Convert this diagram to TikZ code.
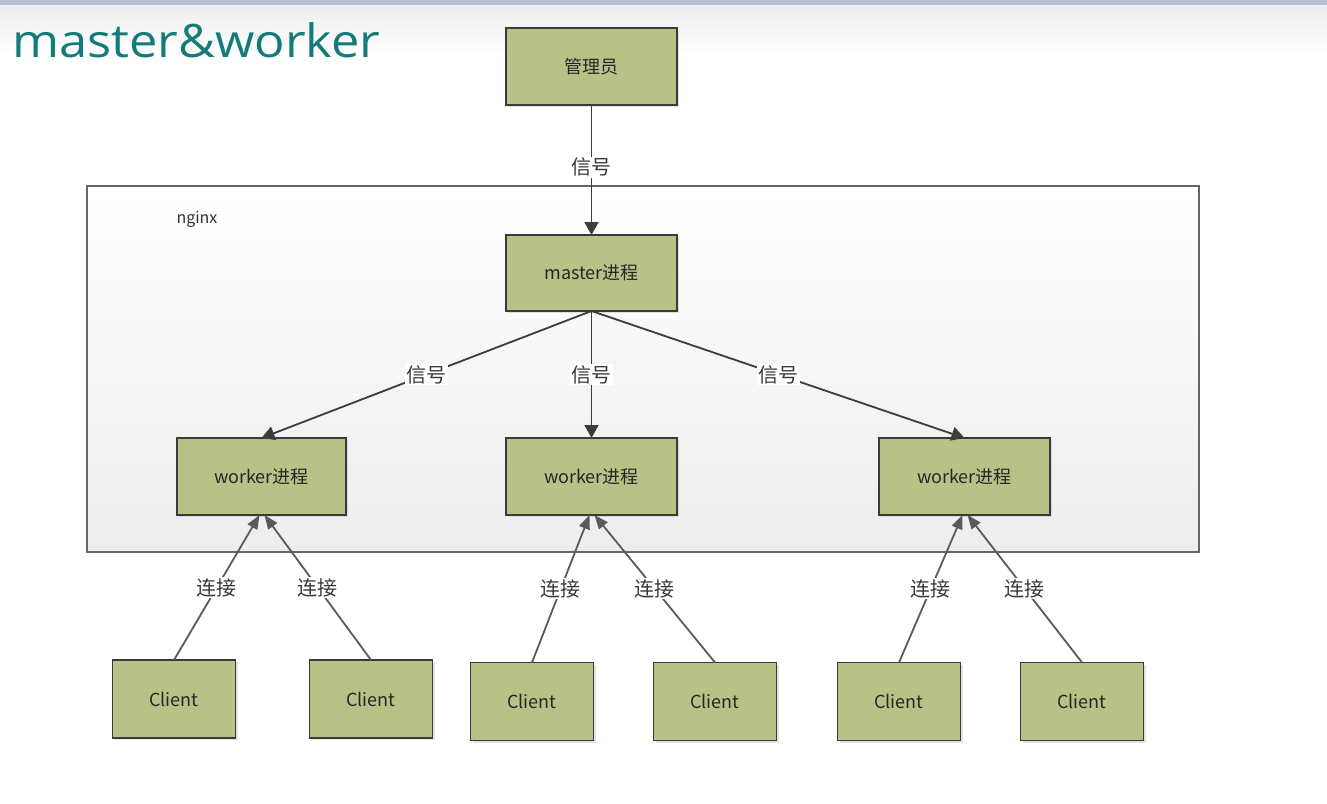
\documentclass[tikz,border=0pt]{standalone}
\usepackage{fontspec}
\setmainfont{Noto Sans CJK SC}
\newfontfamily\titlefont{Open Sans}
\usetikzlibrary{arrows.meta,shadows}
\definecolor{boxfill}{HTML}{B8C287}
\definecolor{boxline}{HTML}{3A3A3A}
\definecolor{arrowc}{HTML}{3C3C3C}
\definecolor{linec}{HTML}{5A5A5A}
\definecolor{titlec}{HTML}{137C78}
\definecolor{framec}{HTML}{666666}
\definecolor{topbar}{HTML}{B7C1D1}
\definecolor{lblc}{HTML}{383838}
\tikzset{
  pbox/.style={draw=boxline, line width=1.6pt, fill=boxfill, outer sep=0pt,
    inner sep=0pt, text=black!85,
    font=\fontsize{18}{20}\selectfont,
    drop shadow={shadow xshift=2pt, shadow yshift=-2pt, opacity=0.22}},
  wbox/.style={pbox, minimum width=171pt, minimum height=77pt},
  cbox/.style={pbox, minimum width=123pt, minimum height=78pt},
  lbl/.style={fill=white, inner sep=1.5pt, text=lblc, font=\fontsize{20}{22}\selectfont},
  sig/.style={draw=arrowc, line width=1.8pt, -{Triangle[length=13pt,width=14pt]}},
  conn/.style={draw=linec, line width=1.8pt, -{Triangle[length=14pt,width=11pt]}}
}
\begin{document}
\begin{tikzpicture}[x=1pt,y=-1pt]
\useasboundingbox (0,0) rectangle (1327,803);
\fill[white] (0,0) rectangle (1327,803);
\shade[top color=black!7, bottom color=white] (0,5) rectangle (1327,55);
\fill[topbar] (0,0) rectangle (1327,5);
% title
\node[anchor=base west, inner sep=0pt, text=titlec, font=\titlefont\fontsize{46}{50}\selectfont] (title) at (12,57) {\scalebox{1.1}[1]{master\&worker}};
% nginx frame
\shade[top color=white, bottom color=black!7, draw=framec, line width=2pt] (87,186) rectangle (1199,552);
\node[text=black!80, font=\fontsize{16}{18}\selectfont] (nginx) at (197,219) {nginx};
% nodes
\node[wbox] (admin) at (591.5,66.5) {管理员};
\node[wbox, minimum height=76pt] (master) at (591.5,273) {master进程};
\node[wbox, minimum width=169pt] (w1) at (261.5,476.5) {worker进程};
\node[wbox] (w2) at (591.5,476.5) {worker进程};
\node[wbox] (w3) at (964.5,476.5) {worker进程};
\node[cbox] (c1) at (174,699) {Client};
\node[cbox] (c2) at (371,699) {Client};
\node[cbox] (c3) at (532,701.5) {Client};
\node[cbox] (c4) at (715,701.5) {Client};
\node[cbox] (c5) at (899,701.5) {Client};
\node[cbox] (c6) at (1082,701.5) {Client};
% signals
\draw[sig] (admin.south) -- node[lbl, pos=0.48] {信号} (master.north);
\draw[sig] (master.south) -- node[lbl] {信号} (w1.north);
\draw[sig] (master.south) -- node[lbl] {信号} (w2.north);
\draw[sig] (master.south) -- node[lbl] {信号} (w3.north);
% connections
\draw[conn] (c1.north) -- node[lbl] {连接} ([xshift=-2pt]w1.south);
\draw[conn] (c2.north) -- node[lbl] {连接} ([xshift=3pt]w1.south);
\draw[conn] (c3.north) -- node[lbl] {连接} ([xshift=-2pt]w2.south);
\draw[conn] (c4.north) -- node[lbl] {连接} ([xshift=3pt]w2.south);
\draw[conn] (c5.north) -- node[lbl] {连接} ([xshift=-2pt]w3.south);
\draw[conn] (c6.north) -- node[lbl] {连接} ([xshift=3pt]w3.south);
\end{tikzpicture}
\end{document}
